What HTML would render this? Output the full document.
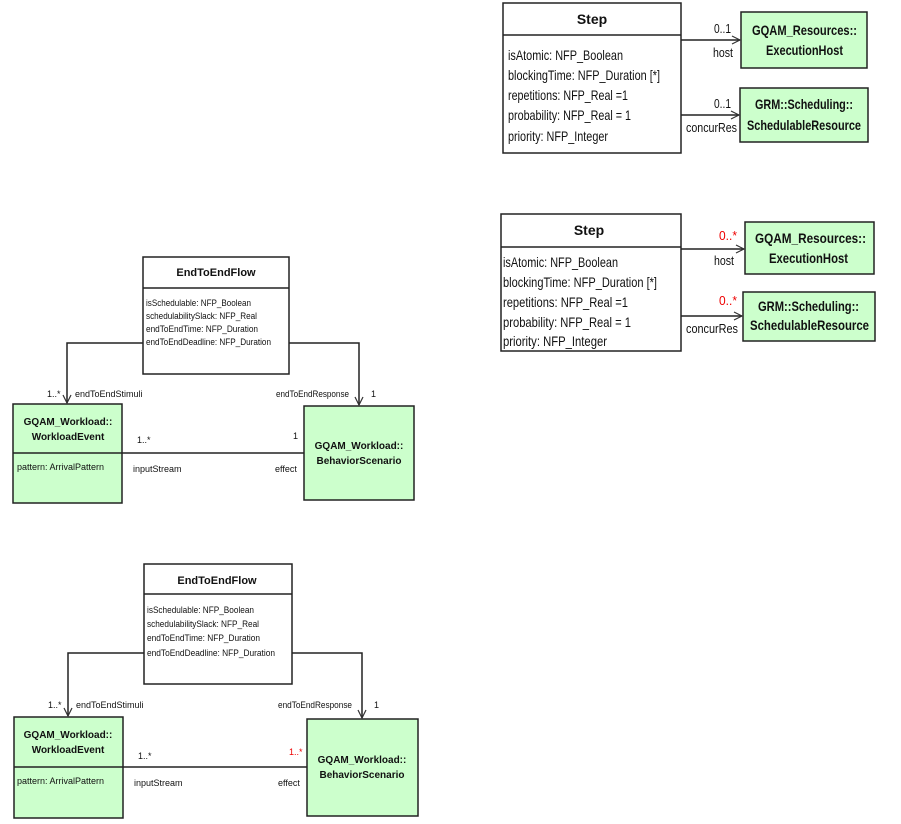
<!DOCTYPE html>
<html><head><meta charset="utf-8"><style>
html,body{margin:0;padding:0;background:#fff;}
svg{display:block;font-family:"Liberation Sans",sans-serif;}
</style></head><body>
<svg width="901" height="824" viewBox="0 0 901 824" xmlns="http://www.w3.org/2000/svg">
<defs>
<marker id="a" markerWidth="10" markerHeight="10" refX="9" refY="5" orient="auto" markerUnits="userSpaceOnUse"><path d="M1,1 L9,5 L1,9" fill="none" stroke="#333" stroke-width="1.2"/></marker>
</defs>
<g fill="none" stroke="#222" stroke-width="1.5">
<rect x="503" y="3" width="178" height="150" fill="#fff"/>
<line x1="503" y1="35" x2="681" y2="35"/>
<rect x="741" y="12" width="126" height="56" fill="#ccffcc"/>
<rect x="740" y="88" width="128" height="54" fill="#ccffcc"/>
<line x1="681" y1="40" x2="740" y2="40" marker-end="url(#a)"/>
<line x1="681" y1="115" x2="739" y2="115" marker-end="url(#a)"/>
<rect x="501" y="214" width="180" height="137" fill="#fff"/>
<line x1="501" y1="247" x2="681" y2="247"/>
<rect x="745" y="222" width="129" height="52" fill="#ccffcc"/>
<rect x="743" y="292" width="132" height="49" fill="#ccffcc"/>
<line x1="681" y1="249" x2="744" y2="249" marker-end="url(#a)"/>
<line x1="681" y1="316" x2="742" y2="316" marker-end="url(#a)"/>
<rect x="143" y="257" width="146" height="117" fill="#fff"/>
<line x1="143" y1="288" x2="289" y2="288"/>
<rect x="13" y="404" width="109" height="99" fill="#ccffcc"/>
<line x1="13" y1="453" x2="122" y2="453"/>
<rect x="304" y="406" width="110" height="94" fill="#ccffcc"/>
<polyline points="143,343 67,343 67,403" marker-end="url(#a)"/>
<polyline points="289,343 359,343 359,405" marker-end="url(#a)"/>
<line x1="122" y1="453" x2="304" y2="453"/>
<rect x="144" y="564" width="148" height="120" fill="#fff"/>
<line x1="144" y1="594" x2="292" y2="594"/>
<rect x="14" y="717" width="109" height="101" fill="#ccffcc"/>
<line x1="14" y1="767" x2="123" y2="767"/>
<rect x="307" y="719" width="111" height="97" fill="#ccffcc"/>
<polyline points="144,653 68,653 68,716" marker-end="url(#a)"/>
<polyline points="292,653 362,653 362,718" marker-end="url(#a)"/>
<line x1="123" y1="767" x2="307" y2="767"/>
</g>
<g fill="#111" font-size="14" lengthAdjust="spacingAndGlyphs">
<text x="592" y="24" text-anchor="middle" font-weight="bold">Step</text>
<text x="508" y="60" textLength="115" lengthAdjust="spacingAndGlyphs">isAtomic: NFP_Boolean</text>
<text x="508" y="80" textLength="152" lengthAdjust="spacingAndGlyphs">blockingTime: NFP_Duration [*]</text>
<text x="508" y="100" textLength="120" lengthAdjust="spacingAndGlyphs">repetitions: NFP_Real =1</text>
<text x="508" y="120" textLength="123" lengthAdjust="spacingAndGlyphs">probability: NFP_Real = 1</text>
<text x="508" y="141" textLength="100" lengthAdjust="spacingAndGlyphs">priority: NFP_Integer</text>
<text x="752" y="35" font-weight="bold" textLength="105" lengthAdjust="spacingAndGlyphs">GQAM_Resources::</text>
<text x="766" y="55" font-weight="bold" textLength="77" lengthAdjust="spacingAndGlyphs">ExecutionHost</text>
<text x="755" y="109" font-weight="bold" textLength="98" lengthAdjust="spacingAndGlyphs">GRM::Scheduling::</text>
<text x="747" y="130" font-weight="bold" textLength="114" lengthAdjust="spacingAndGlyphs">SchedulableResource</text>
<text x="714" y="33" font-size="13" textLength="17" lengthAdjust="spacingAndGlyphs">0..1</text>
<text x="713" y="57" font-size="13" textLength="20" lengthAdjust="spacingAndGlyphs">host</text>
<text x="714" y="108" font-size="13" textLength="17" lengthAdjust="spacingAndGlyphs">0..1</text>
<text x="686" y="132" font-size="13" textLength="51" lengthAdjust="spacingAndGlyphs">concurRes</text>

<text x="589" y="235" text-anchor="middle" font-weight="bold">Step</text>
<text x="503" y="267" textLength="115" lengthAdjust="spacingAndGlyphs">isAtomic: NFP_Boolean</text>
<text x="503" y="287" textLength="154" lengthAdjust="spacingAndGlyphs">blockingTime: NFP_Duration [*]</text>
<text x="503" y="307" textLength="125" lengthAdjust="spacingAndGlyphs">repetitions: NFP_Real =1</text>
<text x="503" y="327" textLength="128" lengthAdjust="spacingAndGlyphs">probability: NFP_Real = 1</text>
<text x="503" y="346" textLength="104" lengthAdjust="spacingAndGlyphs">priority: NFP_Integer</text>
<text x="755" y="243" font-weight="bold" textLength="111" lengthAdjust="spacingAndGlyphs">GQAM_Resources::</text>
<text x="769" y="263" font-weight="bold" textLength="79" lengthAdjust="spacingAndGlyphs">ExecutionHost</text>
<text x="758" y="311" font-weight="bold" textLength="101" lengthAdjust="spacingAndGlyphs">GRM::Scheduling::</text>
<text x="750" y="330" font-weight="bold" textLength="119" lengthAdjust="spacingAndGlyphs">SchedulableResource</text>
<text x="719" y="240" font-size="13" fill="#e00" textLength="18" lengthAdjust="spacingAndGlyphs">0..*</text>
<text x="714" y="265" font-size="13" textLength="20" lengthAdjust="spacingAndGlyphs">host</text>
<text x="719" y="305" font-size="13" fill="#e00" textLength="18" lengthAdjust="spacingAndGlyphs">0..*</text>
<text x="686" y="333" font-size="13" textLength="52" lengthAdjust="spacingAndGlyphs">concurRes</text>
</g>
<g fill="#111" font-size="9">
<text x="216" y="276" text-anchor="middle" font-weight="bold" font-size="11">EndToEndFlow</text>
<text x="146" y="306" textLength="105" lengthAdjust="spacingAndGlyphs">isSchedulable: NFP_Boolean</text>
<text x="146" y="319" textLength="111" lengthAdjust="spacingAndGlyphs">schedulabilitySlack: NFP_Real</text>
<text x="146" y="332" textLength="112" lengthAdjust="spacingAndGlyphs">endToEndTime: NFP_Duration</text>
<text x="146" y="345" textLength="125" lengthAdjust="spacingAndGlyphs">endToEndDeadline: NFP_Duration</text>
<text x="68" y="425" text-anchor="middle" font-weight="bold" font-size="10">GQAM_Workload::</text>
<text x="68" y="440" text-anchor="middle" font-weight="bold" font-size="10">WorkloadEvent</text>
<text x="17" y="470">pattern: ArrivalPattern</text>
<text x="359" y="449" text-anchor="middle" font-weight="bold" font-size="10">GQAM_Workload::</text>
<text x="359" y="464" text-anchor="middle" font-weight="bold" font-size="10">BehaviorScenario</text>
<text x="47" y="397">1..*</text>
<text x="75" y="397">endToEndStimuli</text>
<text x="276" y="397" textLength="73" lengthAdjust="spacingAndGlyphs">endToEndResponse</text>
<text x="371" y="397">1</text>
<text x="137" y="443">1..*</text>
<text x="293" y="439">1</text>
<text x="133" y="472">inputStream</text>
<text x="275" y="472">effect</text>

<text x="217" y="584" text-anchor="middle" font-weight="bold" font-size="11">EndToEndFlow</text>
<text x="147" y="613" textLength="107" lengthAdjust="spacingAndGlyphs">isSchedulable: NFP_Boolean</text>
<text x="147" y="627" textLength="112" lengthAdjust="spacingAndGlyphs">schedulabilitySlack: NFP_Real</text>
<text x="147" y="641" textLength="113" lengthAdjust="spacingAndGlyphs">endToEndTime: NFP_Duration</text>
<text x="147" y="656" textLength="128" lengthAdjust="spacingAndGlyphs">endToEndDeadline: NFP_Duration</text>
<text x="68" y="738" text-anchor="middle" font-weight="bold" font-size="10">GQAM_Workload::</text>
<text x="68" y="753" text-anchor="middle" font-weight="bold" font-size="10">WorkloadEvent</text>
<text x="17" y="784">pattern: ArrivalPattern</text>
<text x="362" y="763" text-anchor="middle" font-weight="bold" font-size="10">GQAM_Workload::</text>
<text x="362" y="778" text-anchor="middle" font-weight="bold" font-size="10">BehaviorScenario</text>
<text x="48" y="708">1..*</text>
<text x="76" y="708">endToEndStimuli</text>
<text x="278" y="708" textLength="74" lengthAdjust="spacingAndGlyphs">endToEndResponse</text>
<text x="374" y="708">1</text>
<text x="138" y="759">1..*</text>
<text x="289" y="755" fill="#e00">1..*</text>
<text x="134" y="786">inputStream</text>
<text x="278" y="786">effect</text>
</g>
</svg>
</body></html>
